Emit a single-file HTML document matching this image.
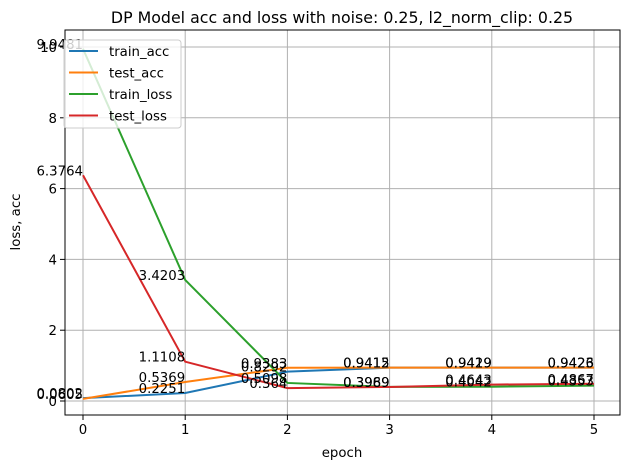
<!DOCTYPE html>
<html><head><meta charset="utf-8"><style>
body{margin:0;background:#fff;font-family:"Liberation Sans","DejaVu Sans",sans-serif;}
svg text{font-family:"DejaVu Sans","Liberation Sans",sans-serif;}
</style></head><body>
<svg id="chart" width="630" height="470" xmlns="http://www.w3.org/2000/svg"></svg>
<script>
const epochs=[0,1,2,3,4,5];
const trainAcc=[0.0802,0.2251,0.8292,0.9412,0.9419,0.9423];
const testAcc=[0.0605,0.5369,0.9383,0.9415,0.9429,0.9426];
const trainLoss=[9.9481,3.4203,0.5098,0.3989,0.4042,0.4353];
const testLoss=[6.3764,1.1108,0.364,0.3969,0.4643,0.4867];
const xTicks=[0,1,2,3,4,5];
const yTicks=[0,2,4,6,8,10];
const seriesNames=["train_acc","test_acc","train_loss","test_loss"];
const colors=["#1f77b4","#ff7f0e","#2ca02c","#d62728"];
const L=65,R=620,T=30,B=415;
const xs=v=>83+v*102.2;
const ys=v=>401-v*35.4;
const svg=document.getElementById('chart');
const NS="http://www.w3.org/2000/svg";
function mk(tag,attrs,parent){const e=document.createElementNS(NS,tag);for(const k in attrs)e.setAttribute(k,attrs[k]);(parent||svg).appendChild(e);return e;}
xTicks.forEach(t=>{const g=mk('line',{x1:xs(t),x2:xs(t),y1:T,y2:B,stroke:'#b0b0b0','stroke-width':1});

mk('line',{x1:xs(t),x2:xs(t),y1:B,y2:B+5,stroke:'#000','stroke-width':1});
const tx=mk('text',{x:xs(t),y:B+19,'text-anchor':'middle','font-size':13.3});tx.textContent=t;
});
yTicks.forEach(t=>{const g=mk('line',{x1:L,x2:R,y1:ys(t),y2:ys(t),stroke:'#b0b0b0','stroke-width':1});

mk('line',{x1:L-5,x2:L,y1:ys(t),y2:ys(t),stroke:'#000','stroke-width':1});
const tx=mk('text',{x:L-8,y:ys(t)+5,'text-anchor':'end','font-size':13.3});tx.textContent=t;
});
const data=[trainAcc,testAcc,trainLoss,testLoss];
data.forEach((s,i)=>{const p=mk('polyline',{points:s.map((v,j)=>xs(epochs[j])+','+ys(v)).join(' '),fill:'none',stroke:colors[i],'stroke-width':2});
});
data.forEach((s,i)=>s.forEach((v,j)=>{const t=mk('text',{x:xs(epochs[j]),y:ys(v),'text-anchor':'end','font-size':13.3,fill:'#000'});t.textContent=v;
}));
const fr=mk('rect',{x:L,y:T,width:R-L,height:B-T,fill:'none',stroke:'#000','stroke-width':1});

const lg=mk('g',{});
mk('rect',{x:64,y:40,width:117,height:88,rx:3,fill:'#fff','fill-opacity':0.8,stroke:'#ccc'},lg);
seriesNames.forEach((n,i)=>{const y=51+i*21.5;
mk('line',{x1:69,x2:98,y1:y,y2:y,stroke:colors[i],'stroke-width':2},lg);
const t=mk('text',{x:109,y:y+5,'font-size':13.3},lg);t.textContent=n;
});
const ti=mk('text',{x:342,y:23,'text-anchor':'middle','font-size':15.8});ti.textContent='DP Model acc and loss with noise: 0.25, l2_norm_clip: 0.25';

const xl=mk('text',{x:342,y:457,'text-anchor':'middle','font-size':13.3});xl.textContent='epoch';

const yl=mk('text',{x:20,y:222,'text-anchor':'middle','font-size':13.3,transform:'rotate(-90 20 222)'});yl.textContent='loss, acc';

</script>
</body></html>
